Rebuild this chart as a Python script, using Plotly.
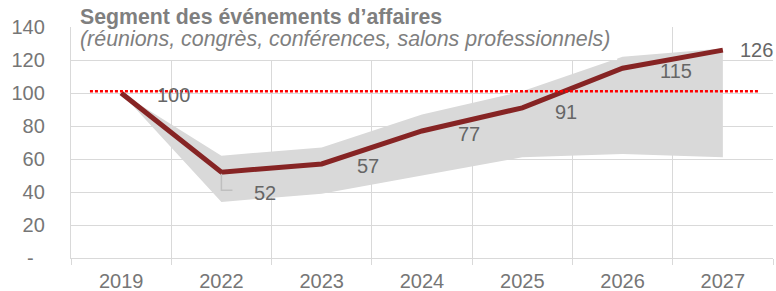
import plotly.graph_objects as go

years = ["2019", "2022", "2023", "2024", "2025", "2026", "2027"]
central = [100, 52, 57, 77, 91, 115, 126]
upper = [100, 62, 67, 87, 101, 122, 127]
lower = [100, 34, 39, 50, 61, 63, 61]
reference_level = 101
y_ticks = [0, 20, 40, 60, 80, 100, 120, 140]
y_ticktext = ["-\u00a0\u00a0", "20", "40", "60", "80", "100", "120", "140"]
title = "Segment des événements d’affaires"
subtitle = "(réunions, congrès, conférences, salons professionnels)"

# label offsets in pixels (dx, dy) relative to each point
label_offsets = [(52, -2), (44, -21), (46, -2), (47, -3), (44, -4), (53, -3), (34, 0)]

FONT = "Liberation Sans, Arial, sans-serif"
GREY_TXT = "#767676"
GRID = "#d9d9d9"

fig = go.Figure()
fig.add_trace(go.Scatter(x=years, y=upper, mode="lines", line=dict(width=0),
                         hoverinfo="skip", showlegend=False))
fig.add_trace(go.Scatter(x=years, y=lower, mode="lines", line=dict(width=0),
                         fill="tonexty", fillcolor="#d9d9d9",
                         hoverinfo="skip", showlegend=False))
fig.add_trace(go.Scatter(x=years, y=central, mode="lines",
                         line=dict(color="#862424", width=5), showlegend=False))

# reference dotted line
fig.add_shape(type="line", xref="paper", yref="y", x0=0.027, x1=0.981,
              y0=reference_level, y1=reference_level,
              line=dict(color="#ff0000", width=2.5, dash="3px,2px"), layer="above")

# leader line for 2022 label
fig.add_shape(type="path", xref="x", yref="y",
              path=f"M 1,{central[1]-1} L 1,{central[1]-11} L 1.11,{central[1]-11}",
              line=dict(color="#bfbfbf", width=1.5))

# white box behind title
fig.add_shape(type="rect", xref="paper", yref="paper", x0=0.0015, x1=0.778,
              y0=0.857, y1=1.2, fillcolor="white", line=dict(width=0), layer="above")

for i, v in enumerate(central):
    dx, dy = label_offsets[i]
    fig.add_annotation(x=i, y=v, xref="x", yref="y", text=str(v), showarrow=False,
                       xshift=dx, yshift=dy,
                       font=dict(family=FONT, size=20, color="#666666"))

fig.add_annotation(xref="paper", yref="paper", x=0, y=1.043, xshift=7,
                   xanchor="left", yanchor="middle", showarrow=False,
                   text=f"<b>{title}</b>",
                   font=dict(family=FONT, size=21.3, color="#7f7f7f"))
fig.add_annotation(xref="paper", yref="paper", x=0, y=0.946, xshift=7,
                   xanchor="left", yanchor="middle", showarrow=False,
                   text=f"<i>{subtitle}</i>",
                   font=dict(family=FONT, size=21.4, color="#7f7f7f"))

fig.update_layout(
    width=776, height=291,
    margin=dict(l=71, r=3, t=27, b=33, autoexpand=False),
    paper_bgcolor="white", plot_bgcolor="white",
    font=dict(family=FONT, size=20, color=GREY_TXT),
    showlegend=False,
)
fig.update_xaxes(type="category", tickson="boundaries", showgrid=True,
                 gridcolor=GRID, gridwidth=1.3, ticks="outside", ticklen=6,
                 tickcolor=GRID, tickwidth=1.3, ticklabelstandoff=5,
                 showline=True, linecolor=GRID, linewidth=1.3, mirror=False,
                 range=[-0.5, 6.5], tickfont=dict(size=20, color=GREY_TXT))
fig.update_yaxes(range=[0, 140], tickvals=y_ticks, ticktext=y_ticktext,
                 showgrid=True, gridcolor=GRID, gridwidth=1.3,
                 showline=True, linecolor=GRID, linewidth=1.3,
                 zeroline=False, ticks="", ticklabelstandoff=21,
                 tickfont=dict(size=20, color=GREY_TXT))

fig.write_html("out.html", config={"displayModeBar": False},
               post_script="document.body.style.margin='0px';")
